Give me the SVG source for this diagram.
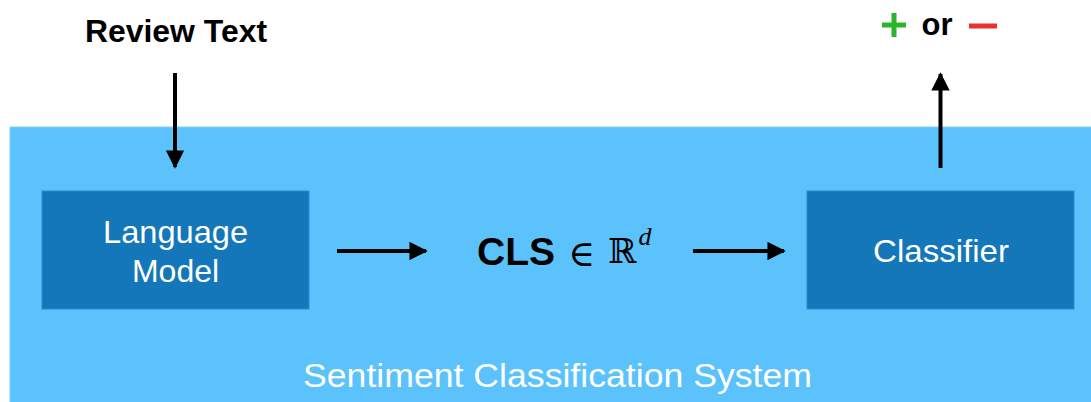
<svg xmlns="http://www.w3.org/2000/svg" width="1091" height="402" viewBox="0 0 1091 402">
<style>
.lbl{font-family:"Liberation Sans",Arial,sans-serif;fill:#fff;text-anchor:middle}
.bold{font-family:"Liberation Sans",Arial,sans-serif;font-weight:bold;fill:#000;text-anchor:middle}
.box{fill:#1477BA;stroke:#2a8cd0;stroke-width:1}
.conn{stroke:#000;stroke-width:4;fill:none}
</style>
<defs>
<marker id="ah" viewBox="0 0 10 10" refX="9" refY="5" markerWidth="4.6" markerHeight="4.6" orient="auto" markerUnits="strokeWidth">
<path d="M0,0 L10,5 L0,10 z" fill="#000"/>
</marker>
</defs>
<rect x="10" y="127" width="1090" height="280" fill="#5BC2FC" stroke="#7fd0fc" stroke-width="1"/>
<g id="review-text"><text class="bold" x="176" y="42" font-size="31" textLength="182" lengthAdjust="spacingAndGlyphs">Review Text</text></g>
<g id="output-label">
<rect x="882" y="22.5" width="24" height="5" fill="#2AB52A"/>
<rect x="891.5" y="13" width="5" height="24" fill="#2AB52A"/>
<text x="937" y="35" font-family="Liberation Sans,Arial,sans-serif" font-weight="bold" font-size="31" fill="#000" text-anchor="middle">or</text>
<rect x="969" y="23.5" width="28" height="5" fill="#E8322A"/>
</g>
<g id="language-model">
<rect class="box" x="42" y="191" width="267" height="118"/>
<text class="lbl" x="175.5" y="243" font-size="32" textLength="145" lengthAdjust="spacingAndGlyphs">Language</text>
<text class="lbl" x="175.5" y="282" font-size="32">Model</text>
</g>
<g id="cls">
<text x="516" y="265" font-family="Liberation Sans,Arial,sans-serif" font-weight="bold" font-size="38" fill="#000" text-anchor="middle" textLength="78" lengthAdjust="spacingAndGlyphs">CLS</text>
<text x="581.5" y="266" font-family="DejaVu Serif,serif" font-size="36" fill="#000" text-anchor="middle">∈</text>
<text x="622.5" y="263" font-family="DejaVu Serif,serif" font-size="34" fill="#000" text-anchor="middle">ℝ</text>
<text x="645" y="245" font-family="Liberation Serif,serif" font-style="italic" font-size="26" fill="#000" text-anchor="middle">d</text>
</g>
<g id="classifier">
<rect class="box" x="807" y="191" width="267" height="118"/>
<text class="lbl" x="941" y="262" font-size="32" textLength="136" lengthAdjust="spacingAndGlyphs">Classifier</text>
</g>
<g id="system-label"><text class="lbl" x="557.5" y="387" font-size="33" textLength="509" lengthAdjust="spacingAndGlyphs">Sentiment Classification System</text></g>
<g id="connectors">
<line class="conn" x1="175" y1="73" x2="175" y2="167" marker-end="url(#ah)"/>
<line class="conn" x1="337" y1="251" x2="426" y2="251" marker-end="url(#ah)"/>
<line class="conn" x1="693" y1="251" x2="784" y2="251" marker-end="url(#ah)"/>
<line class="conn" x1="940.5" y1="168" x2="940.5" y2="74" marker-end="url(#ah)"/>
</g>
</svg>
